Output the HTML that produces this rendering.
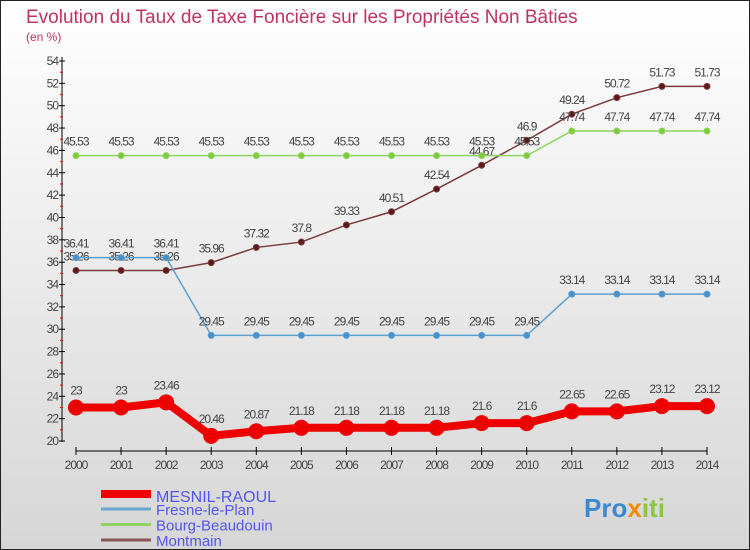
<!DOCTYPE html>
<html><head><meta charset="utf-8"><style>
body{margin:0}
#c{width:750px;height:550px;position:relative;box-sizing:border-box;border:1px solid #222;background:linear-gradient(#ffffff,#d6d6d6);font-family:"Liberation Sans",sans-serif;overflow:hidden}
svg{position:absolute;left:0;top:0}
</style></head><body>
<div id="c">
<svg id="s" width="750" height="550">
<text x="25" y="22" font-size="19" fill="#c0335f">Evolution du Taux de Taxe Foncière sur les Propriétés Non Bâties</text>
<text x="25" y="40" font-size="12" fill="#c0335f">(en %)</text>
</svg>
</div>
<script>
const years=[2000,2001,2002,2003,2004,2005,2006,2007,2008,2009,2010,2011,2012,2013,2014];
const mesnil=[23,23,23.46,20.46,20.87,21.18,21.18,21.18,21.18,21.6,21.6,22.65,22.65,23.12,23.12];
const fresne=[36.41,36.41,36.41,29.45,29.45,29.45,29.45,29.45,29.45,29.45,29.45,33.14,33.14,33.14,33.14];
const bourg=[45.53,45.53,45.53,45.53,45.53,45.53,45.53,45.53,45.53,45.53,45.53,47.74,47.74,47.74,47.74];
const montmain=[35.26,35.26,35.26,35.96,37.32,37.8,39.33,40.51,42.54,44.67,46.9,49.24,50.72,51.73,51.73];
const yTicks=[20,22,24,26,28,30,32,34,36,38,40,42,44,46,48,50,52,54];
const seriesNames=["MESNIL-RAOUL","Fresne-le-Plan","Bourg-Beaudouin","Montmain"];
const NS="http://www.w3.org/2000/svg",s=document.getElementById('s');
const X=i=>75+i*(706-75)/14, Y=v=>440-(v-20)*(380/34);
function mk(t,a,p){const e=document.createElementNS(NS,t);for(const k in a)e.setAttribute(k,a[k]);(p||s).appendChild(e);return e;}
// axes
let ax=mk('line',{x1:61,y1:56,x2:61,y2:441,stroke:'#000'});


let xa=mk('line',{x1:75,y1:450,x2:706,y2:450,stroke:'#000'});


yTicks.forEach(v=>{mk('line',{x1:58,y1:Y(v),x2:64,y2:Y(v),stroke:'#000'});
 if(v<54)mk('line',{x1:59,y1:Y(v+1),x2:62,y2:Y(v+1),stroke:'#e00'});
 const t=mk('text',{x:57,y:Y(v)+4,'font-size':12,fill:'#444','text-anchor':'end','letter-spacing':'-1'});t.textContent=v;
 
 });
years.forEach((y,i)=>{mk('line',{x1:X(i),y1:446,x2:X(i),y2:454,stroke:'#000'});
 const t=mk('text',{x:X(i),y:468,'font-size':12,fill:'#444','text-anchor':'middle','letter-spacing':'-1'});t.textContent=y;
 
 });
function series(d,col,dot,w,r,name,dy){
 const g=mk('g',{});
 
 
 mk('polyline',{points:d.map((v,i)=>X(i)+','+Y(v)).join(' '),fill:'none',stroke:col,'stroke-width':w},g);
 d.forEach((v,i)=>{const c=mk('circle',{cx:X(i),cy:Y(v),r:r,fill:dot,stroke:col},g);
  
  
  const t=mk('text',{x:X(i),y:Y(v)+dy,'font-size':12,fill:'#444','text-anchor':'middle','letter-spacing':'-1'},g);t.textContent=v;
  
  });
}
series(montmain,'#7a3a3a','#5a1a1a',1.5,3,'series-montmain',-10);
series(bourg,'#8fd460','#7ccc3a',1.5,3,'series-bourg-beaudouin',-10);
series(fresne,'#5b9fd0','#4a90c8',1.5,3,'series-fresne-le-plan',-10);
series(mesnil,'#ee0000','#ee0000',8,7.5,'series-mesnil-raoul',-13);
// legend
const lc=[['#ee0000',8],['#6aa7d0',3],['#8fd460',3],['#8a5555',3]];
seriesNames.forEach((n,i)=>{const y=i===0?493:508+(i-1)*15.5;
 const l=mk('line',{x1:100,y1:y,x2:150,y2:y,stroke:lc[i][0],'stroke-width':lc[i][1]});
 
 
 const t=mk('text',{x:155,y:y+(i===0?8:6),'font-size':i===0?16:15,fill:'#5555ee'});t.textContent=n;
 
 });
const b=mk('text',{x:583,y:516,'font-size':26,'font-weight':'bold',fill:'#3a8ad0'});


b.innerHTML='<tspan fill="#3a8ad0">Pro</tspan><tspan fill="#f08a00">x</tspan><tspan fill="#8cc63f">iti</tspan>';
</script>
</body></html>
